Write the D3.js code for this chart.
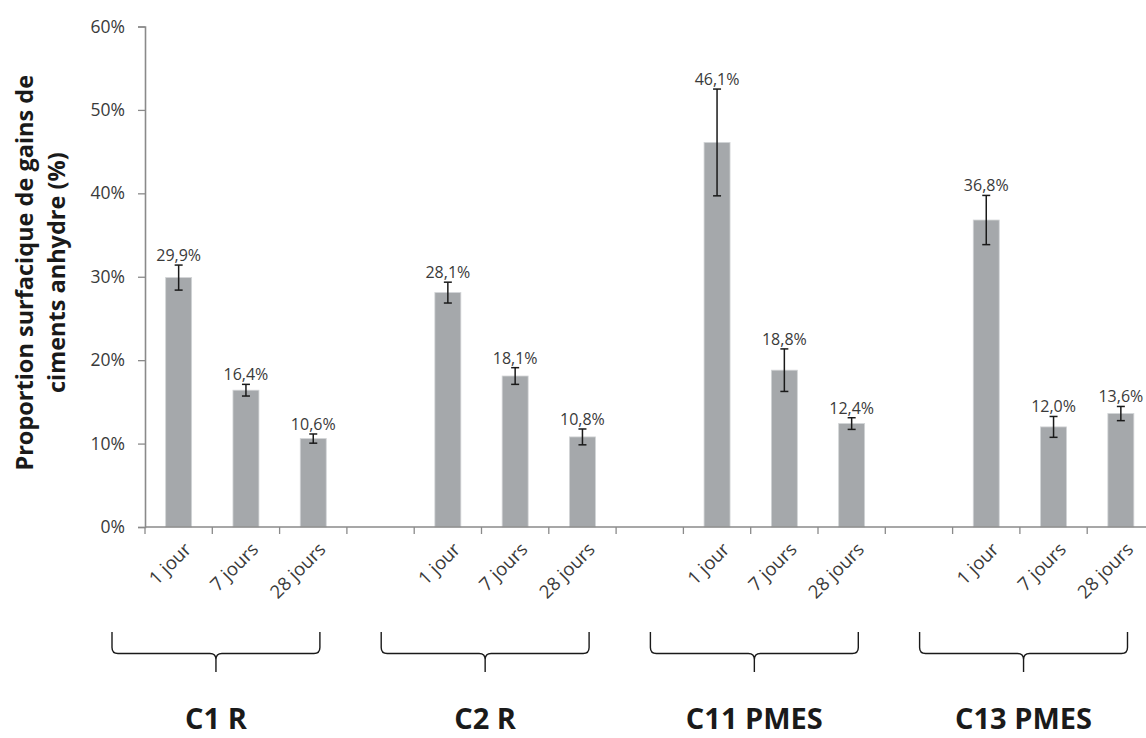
<!DOCTYPE html>
<html>
<head>
<meta charset="utf-8">
<script src="https://cdn.jsdelivr.net/npm/d3@7"></script>
<style>
  html, body { margin: 0; padding: 0; background: #fff; }
  svg { display: block; }
  text { font-family: "Open Sans", "Noto Sans", sans-serif; }
</style>
</head>
<body>
<svg id="chart" width="1146" height="738"></svg>
<script>
// ---- data ----
const groups = ["C1 R", "C2 R", "C11 PMES", "C13 PMES"];
const ages = ["1 jour", "7 jours", "28 jours"];
const values = [
  [29.9, 16.4, 10.6],
  [28.1, 18.1, 10.8],
  [46.1, 18.8, 12.4],
  [36.8, 12.0, 13.6]
];
const errors = [
  [1.5, 0.7, 0.55],
  [1.25, 1.0, 0.95],
  [6.4, 2.55, 0.7],
  [2.95, 1.25, 0.85]
];
const yTicks = [0, 10, 20, 30, 40, 50, 60];
const yTitle = ["Proportion surfacique de gains de", "ciments anhydre (%)"];

(function () {
// ---- build slots (3 bars per group, one blank slot between groups) ----
const slots = [];
groups.forEach((g, gi) => {
  ages.forEach((a, ai) => slots.push({key: g + "|" + a, group: g, gi, age: a, value: values[gi][ai], err: errors[gi][ai]}));
  if (gi < groups.length - 1) slots.push({key: "gap" + gi, blank: true});
});

const svg = d3.select("#chart");
const mLeft = 145, mTop = 26.5, mBottom = 527, step = 67.3;
const x = d3.scaleBand().domain(slots.map(d => d.key)).range([mLeft, mLeft + step * slots.length]).paddingInner(0).paddingOuter(0);
const y = d3.scaleLinear().domain([0, 60]).range([mBottom, mTop]);
const barW = x.bandwidth() * 0.386;

const axisColor = "#8a8a8a";
const textColor = "#3a3a3a";

// y axis
const yAxis = svg.append("g").attr("transform", `translate(${mLeft},0)`)
  .call(d3.axisLeft(y).tickValues(yTicks).tickSize(7).tickPadding(13).tickFormat(d => d + "%"));
yAxis.select(".domain").attr("stroke", axisColor).attr("stroke-width", 1.6);
yAxis.selectAll(".tick line").attr("stroke", axisColor).attr("stroke-width", 1.3);
yAxis.selectAll(".tick text").attr("fill", textColor).style("font-size", "17.5px").style("font-family", "'Open Sans'");

// bars
const data = slots.filter(d => !d.blank);
svg.append("g").selectAll("rect").data(data).join("rect")
  .attr("x", d => x(d.key) + (x.bandwidth() - barW) / 2)
  .attr("y", d => y(d.value))
  .attr("width", barW)
  .attr("height", d => y(0) - y(d.value))
  .attr("fill", "#a5a8ab")
  .attr("stroke", "#d2d4d6")
  .attr("stroke-width", 0.8);

// x axis (ticks at slot boundaries)
const xa = svg.append("g");
const bounds = d3.range(slots.length + 1).map(i => mLeft + i * x.step());
xa.append("line").attr("x1", mLeft).attr("x2", mLeft + x.step() * slots.length)
  .attr("y1", y(0)).attr("y2", y(0)).attr("stroke", axisColor).attr("stroke-width", 1.6);
xa.selectAll("line.tk").data(bounds).join("line").attr("class", "tk")
  .attr("x1", d => d).attr("x2", d => d).attr("y1", y(0)).attr("y2", y(0) + 7)
  .attr("stroke", axisColor).attr("stroke-width", 1.3);

// category labels rotated
svg.append("g").selectAll("text").data(data).join("text")
  .attr("transform", d => `translate(${x(d.key) + x.bandwidth() / 2 + 9},${y(0) + 19}) rotate(-45)`)
  .attr("text-anchor", "end")
  .attr("dy", "0.35em")
  .attr("fill", textColor)
  .style("font-size", "18.5px")
  .text(d => d.age);

// error bars
const eb = svg.append("g").attr("stroke", "#1a1a1a").attr("stroke-width", 1.5);
data.forEach(d => {
  const cx = x(d.key) + x.bandwidth() / 2;
  eb.append("line").attr("x1", cx).attr("x2", cx).attr("y1", y(d.value + d.err)).attr("y2", y(d.value - d.err));
  eb.append("line").attr("x1", cx - 4).attr("x2", cx + 4).attr("y1", y(d.value + d.err)).attr("y2", y(d.value + d.err));
  eb.append("line").attr("x1", cx - 4).attr("x2", cx + 4).attr("y1", y(d.value - d.err)).attr("y2", y(d.value - d.err));
});

// data labels (above the error bar top)
svg.append("g").selectAll("text").data(data).join("text")
  .attr("x", d => x(d.key) + x.bandwidth() / 2)
  .attr("y", d => y(d.value + d.err) - 4)
  .attr("text-anchor", "middle")
  .attr("fill", textColor)
  .style("font-size", "16px")
  .text(d => d.value.toFixed(1).replace(".", ",") + "%");

// y title
const yt = svg.append("text")
  .attr("transform", `translate(0,${(mTop + mBottom) / 2 - 4}) rotate(-90)`)
  .attr("text-anchor", "middle")
  .attr("fill", "#1a1a1a")
  .style("font-size", "23.5px")
  .style("font-weight", "700");
yTitle.forEach((t, i) => yt.append("tspan").attr("x", 0).attr("y", 33 + i * 32).text(t));

// group braces and labels
const yArm = 632, yLine = 653.5, yTip = 672, r = 6;
groups.forEach((g, gi) => {
  const keys = ages.map(a => g + "|" + a);
  const xl = x(keys[0]) - 33;
  const xr = x(keys[2]) + x.step() - 27;
  const xc = (xl + xr) / 2;
  const p = d3.path();
  p.moveTo(xl, yArm); p.lineTo(xl, yLine - r); p.quadraticCurveTo(xl, yLine, xl + r, yLine);
  p.lineTo(xc - r, yLine); p.quadraticCurveTo(xc, yLine, xc, yLine + r); p.lineTo(xc, yTip);
  p.moveTo(xc, yLine + r); p.quadraticCurveTo(xc, yLine, xc + r, yLine);
  p.lineTo(xr - r, yLine); p.quadraticCurveTo(xr, yLine, xr, yLine - r); p.lineTo(xr, yArm);
  svg.append("path").attr("d", p.toString()).attr("fill", "none").attr("stroke", "#1a1a1a").attr("stroke-width", 1.4);
  svg.append("text").attr("x", xc).attr("y", 729).attr("text-anchor", "middle")
    .attr("fill", "#1a1a1a").style("font-size", "29px").style("font-weight", "700").text(g);
});
})();
</script>
</body>
</html>
